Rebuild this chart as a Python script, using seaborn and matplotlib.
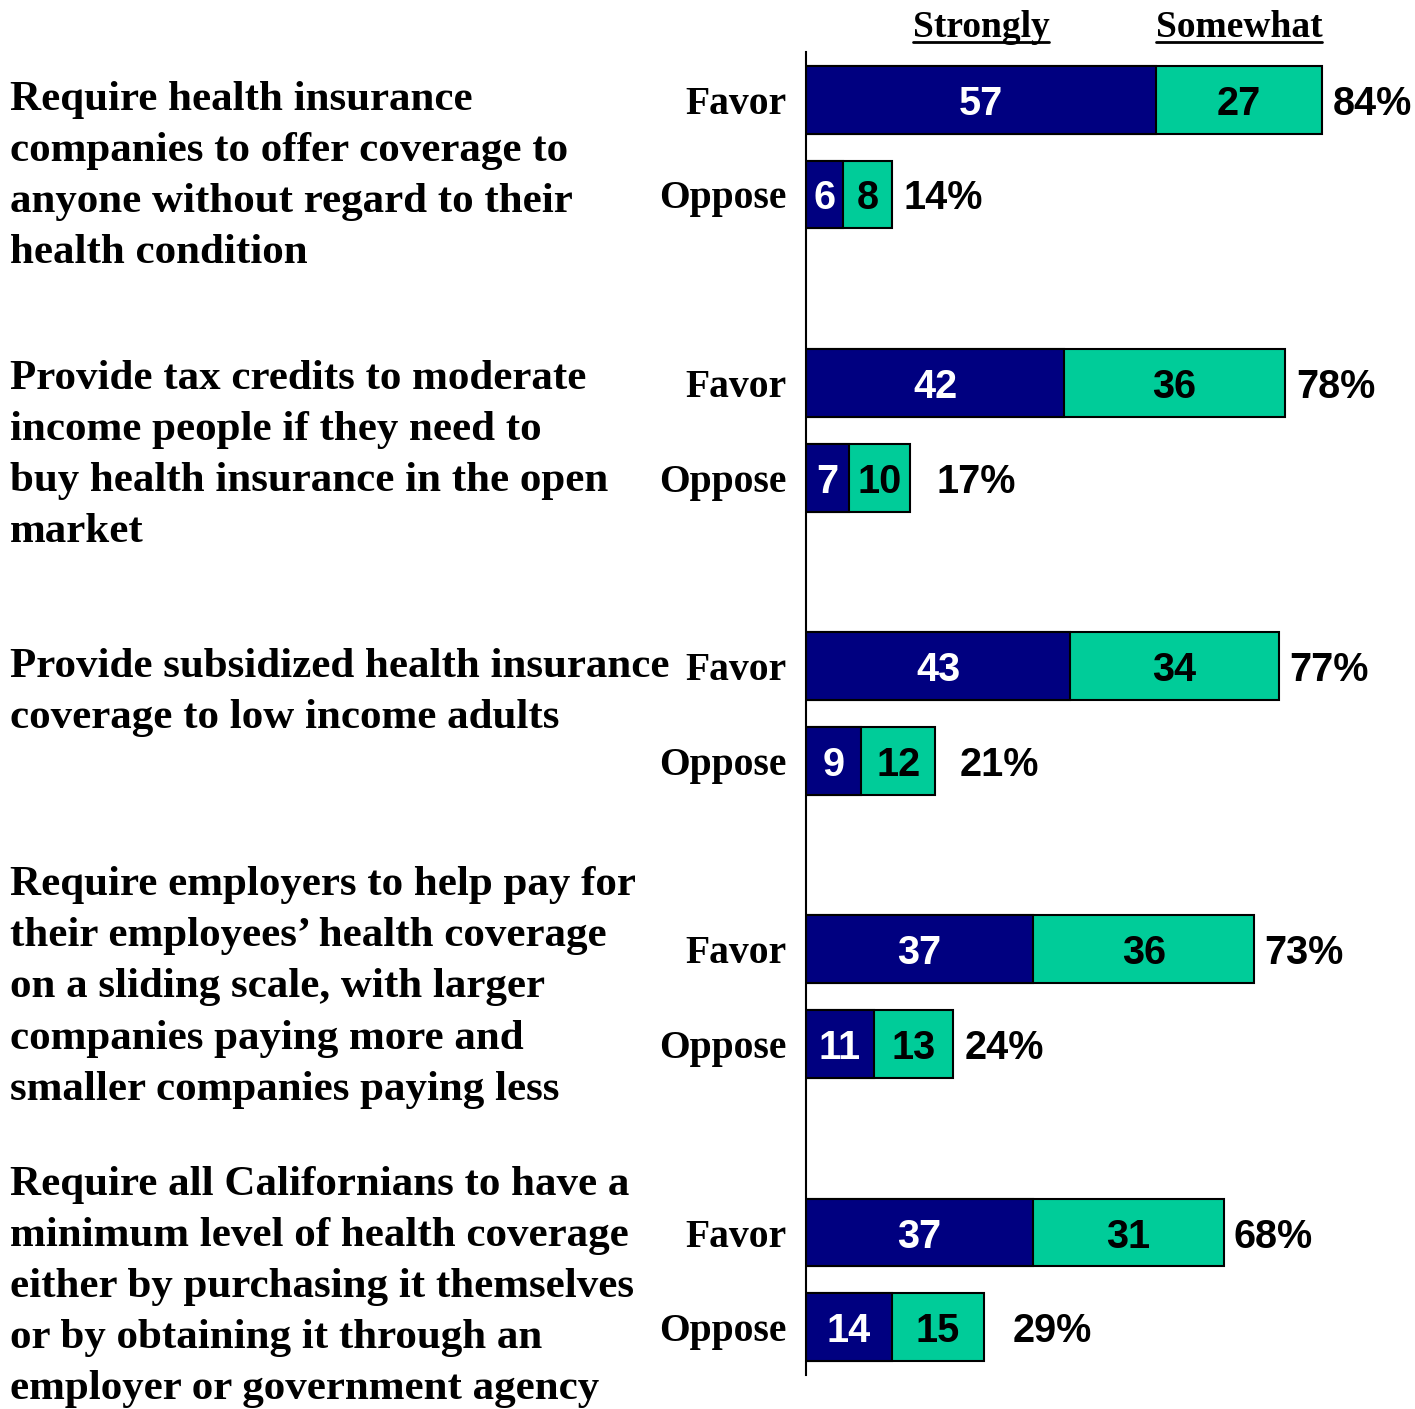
import numpy as np
import pandas as pd
import matplotlib
matplotlib.use('Agg')
import matplotlib.pyplot as plt
import seaborn as sns
from matplotlib.transforms import blended_transform_factory
from matplotlib.lines import Line2D

# --- data ---
questions = [
    "Require health insurance\ncompanies to offer coverage to\nanyone without regard to their\nhealth condition",
    "Provide tax credits to moderate\nincome people if they need to\nbuy health insurance in the open\nmarket",
    "Provide subsidized health insurance\ncoverage to low income adults",
    "Require employers to help pay for\ntheir employees\u2019 health coverage\non a sliding scale, with larger\ncompanies paying more and\nsmaller companies paying less",
    "Require all Californians to have a\nminimum level of health coverage\neither by purchasing it themselves\nor by obtaining it through an\nemployer or government agency",
]
strongly_favor = [57, 42, 43, 37, 37]
somewhat_favor = [27, 36, 34, 36, 31]
total_favor = [84, 78, 77, 73, 68]
strongly_oppose = [6, 7, 9, 11, 14]
somewhat_oppose = [8, 10, 12, 13, 15]
total_oppose = [14, 17, 21, 24, 29]
row_labels = ['Favor', 'Oppose']
headers = ['Strongly', 'Somewhat']

# --- layout / style ---
navy = '#000080'
green = '#00CC99'
serif = 'Liberation Serif'
sans = 'Liberation Sans'
px_per_unit = 6.143
total_gap_px = [11, 11, 11, 26, 10, 25, 10, 11, 10, 28]
label_shift = [-0.20, -0.25, -0.19, -0.88, -0.71]

sns.set_style('white')
plt.rcParams['font.family'] = [serif, 'DejaVu Sans']
plt.rcParams['text.color'] = 'black'
plt.rcParams['ytick.labelcolor'] = 'black'

rows = []
for i in range(len(questions)):
    rows.append(dict(pos=3 * i, label=row_labels[0], strong=strongly_favor[i],
                     some=somewhat_favor[i], total=total_favor[i]))
    rows.append(dict(pos=3 * i + 1, label=row_labels[1], strong=strongly_oppose[i],
                     some=somewhat_oppose[i], total=total_oppose[i]))
df = pd.DataFrame(rows)
df['end'] = df['strong'] + df['some']

W, H = 1415, 1409
fig = plt.figure(figsize=(W / 100, H / 100), dpi=100)
ax = fig.add_axes([806 / W, 1 - 1375 / H, (W - 806) / W, (1375 - 52) / H])

sns.barplot(data=df, x='end', y='pos', orient='h', native_scale=True, color=green,
            saturation=1, edgecolor='black', linewidth=1.5, width=0.72,
            errorbar=None, ax=ax)
sns.barplot(data=df, x='strong', y='pos', orient='h', native_scale=True, color=navy,
            saturation=1, edgecolor='black', linewidth=1.5, width=0.72,
            errorbar=None, ax=ax)

ax.set_xlim(0, (W - 806) / px_per_unit)
ax.set_ylim(13.51, -0.51)
ax.set_xlabel('')
ax.set_ylabel('')
ax.set_xticks([])
ax.set_yticks(df['pos'], df['label'], fontfamily=serif, fontweight='bold',
              fontsize=28.5, color='black')
ax.tick_params(axis='y', length=0, pad=14)
sns.despine(ax=ax, top=True, right=True, bottom=True, left=False)
ax.spines['left'].set_color('black')
ax.spines['left'].set_linewidth(1.5)

# segment and total labels
num_font = dict(fontfamily=sans, fontweight='bold', fontsize=28.5, va='center_baseline')
for k, r in df.iterrows():
    ax.text(r['strong'] / 2, r['pos'], str(r['strong']), color='white', ha='center',
            **num_font)
    ax.text(r['strong'] + r['some'] / 2, r['pos'], str(r['some']), color='black',
            ha='center', **num_font)
    ax.text(r['end'] + total_gap_px[k] / px_per_unit, r['pos'], f"{r['total']}%",
            color='black', ha='left', **num_font)

# question texts on the left
tr = blended_transform_factory(fig.transFigure, ax.transData)
for i, q in enumerate(questions):
    ax.text(10 / W, 3 * i + label_shift[i], q, transform=tr, ha='left', va='top',
            color='black', fontfamily=serif, fontweight='bold', fontsize=31,
            linespacing=1.45, clip_on=False)

# underlined column headers over the first bar
hdr_x = [strongly_favor[0] / 2, strongly_favor[0] + somewhat_favor[0] / 2]
hdr_texts = []
for hx, h in zip(hdr_x, headers):
    hdr_texts.append(ax.text(hx, -0.81, h, ha='center', va='center_baseline',
                             color='black', fontfamily=serif, fontweight='bold',
                             fontsize=27, clip_on=False))

fig.canvas.draw()
renderer = fig.canvas.get_renderer()
for t in hdr_texts:
    bb = t.get_window_extent(renderer)
    x0, x1 = bb.x0 / W, bb.x1 / W
    y = (bb.y0 + 3) / H
    fig.add_artist(Line2D([x0, x1], [y, y], transform=fig.transFigure,
                          color='black', linewidth=2))

fig.savefig('out.png', dpi=100)
